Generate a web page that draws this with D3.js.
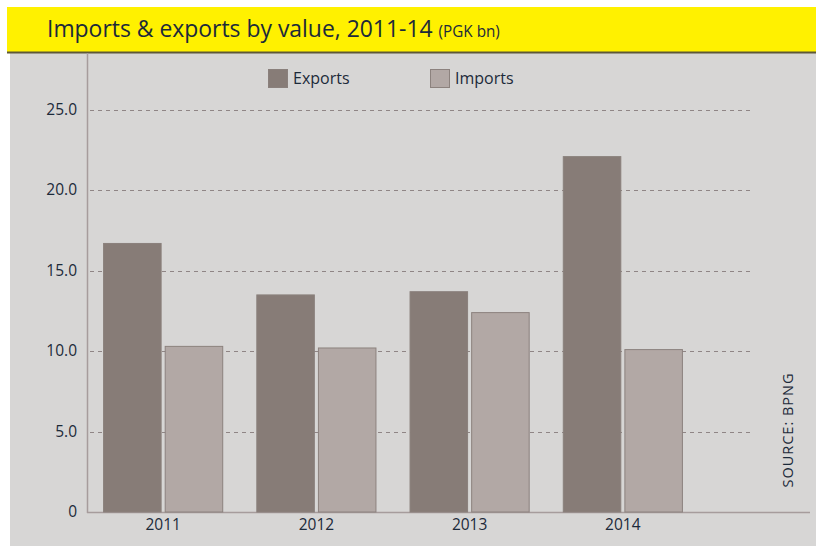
<!DOCTYPE html>
<html>
<head>
<meta charset="utf-8">
<script src="https://cdn.jsdelivr.net/npm/d3@7"></script>
<style>
  body { margin: 0; background: #fff; }
  svg { display: block; }
</style>
</head>
<body>
<div id="chart"></div>
<script>
const years = ["2011", "2012", "2013", "2014"];
const seriesNames = ["Exports", "Imports"];
const exportsValues = [16.7, 13.5, 13.7, 22.1];
const importsValues = [10.3, 10.2, 12.4, 10.1];
const yTicks = [0, 5, 10, 15, 20, 25];

const width = 816;
const height = 546;
const textColor = "#1c2a3a";
const colors = {Exports: "#877c77", Imports: "#b2a8a5"};
const strokes = {Exports: "#8a807c", Imports: "#8c827e"};

const rows = years.map((year, i) => ({
  year,
  Exports: exportsValues[i],
  Imports: importsValues[i]
}));

const svg = d3.select("#chart").append("svg")
  .attr("width", width)
  .attr("height", height);

// grey panel + yellow header
svg.append("rect")
  .attr("x", 10).attr("y", 52)
  .attr("width", width - 10).attr("height", height - 52)
  .attr("fill", "#d7d6d5");
svg.append("rect")
  .attr("x", 7).attr("y", 7)
  .attr("width", width - 7).attr("height", 45)
  .attr("fill", "#fff100");
svg.append("line")
  .attr("x1", 7).attr("x2", width)
  .attr("y1", 52.5).attr("y2", 52.5)
  .attr("stroke", "#5e5838").attr("stroke-width", 2);

// title is a bit condensed in the original
const title = svg.append("text")
  .attr("transform", "translate(47,37) scale(0.955,1)")
  .attr("fill", textColor)
  .attr("font-family", "'Open Sans', sans-serif")
  .attr("font-size", 24);
title.append("tspan").text("Imports & exports by value, 2011-14 ");
title.append("tspan").attr("font-size", 16).text("(PGK bn)");

const x = d3.scaleBand()
  .domain(years)
  .range([87, 699])
  .paddingInner(0.216)
  .paddingOuter(0.105);

const xInner = d3.scaleBand()
  .domain(seriesNames)
  .range([0, x.bandwidth()])
  .paddingInner(0.05);

const y = d3.scaleLinear()
  .domain([0, 25])
  .range([512, 110]);

// grid lines
svg.append("g")
  .selectAll("line")
  .data(yTicks.filter((d) => d > 0))
  .join("line")
  .attr("x1", 90).attr("x2", 753)
  .attr("y1", (d) => Math.round(y(d)) + 0.5)
  .attr("y2", (d) => Math.round(y(d)) + 0.5)
  .attr("stroke", "#8f8585")
  .attr("stroke-dasharray", "4,4");

// axis lines
svg.append("line")
  .attr("x1", 87.5).attr("x2", 87.5)
  .attr("y1", 53).attr("y2", 513)
  .attr("stroke", "#a69c9c").attr("stroke-width", 1.5);
svg.append("line")
  .attr("x1", 87).attr("x2", 810)
  .attr("y1", 512.5).attr("y2", 512.5)
  .attr("stroke", "#a69c9c").attr("stroke-width", 1.5);

// bars
const groups = svg.append("g")
  .selectAll("g")
  .data(rows)
  .join("g")
  .attr("transform", (d) => `translate(${x(d.year)},0)`);

groups.selectAll("rect")
  .data((d) => seriesNames.map((key) => ({key, value: d[key]})))
  .join("rect")
  .attr("x", (d) => xInner(d.key) + 0.5)
  .attr("y", (d) => y(d.value))
  .attr("width", xInner.bandwidth() - 1)
  .attr("height", (d) => y(0) - y(d.value))
  .attr("fill", (d) => colors[d.key])
  .attr("stroke", (d) => strokes[d.key])
  .attr("stroke-width", 1);

// y tick labels
svg.append("g")
  .selectAll("text")
  .data(yTicks)
  .join("text")
  .attr("x", 77)
  .attr("y", (d) => y(d) + 5)
  .attr("text-anchor", "end")
  .attr("fill", textColor)
  .attr("font-family", "'Open Sans', sans-serif")
  .attr("font-size", 15.5)
  .text((d) => (d === 0 ? "0" : d3.format(".1f")(d)));

// x tick labels
svg.append("g")
  .selectAll("text")
  .data(years)
  .join("text")
  .attr("x", (d) => x(d) + x.bandwidth() / 2)
  .attr("y", 530)
  .attr("text-anchor", "middle")
  .attr("fill", textColor)
  .attr("font-family", "'Open Sans', sans-serif")
  .attr("font-size", 15.5)
  .text((d) => d);

// legend
const legendX = [268, 430];
const legend = svg.append("g")
  .selectAll("g")
  .data(seriesNames)
  .join("g")
  .attr("transform", (d, i) => `translate(${legendX[i]},69)`);
legend.append("rect")
  .attr("x", 0.5).attr("y", 0.5)
  .attr("width", 19).attr("height", 18)
  .attr("fill", (d) => colors[d])
  .attr("stroke", (d) => strokes[d]);
legend.append("text")
  .attr("x", 25).attr("y", 15)
  .attr("fill", textColor)
  .attr("font-family", "'Open Sans', sans-serif")
  .attr("font-size", 16)
  .text((d) => d);

// source
svg.append("text")
  .attr("transform", "translate(793,430) rotate(-90)")
  .attr("text-anchor", "middle")
  .attr("fill", textColor)
  .attr("font-family", "'Open Sans', sans-serif")
  .attr("font-size", 14.5)
  .attr("letter-spacing", 1)
  .text("SOURCE: BPNG");
</script>
</body>
</html>
